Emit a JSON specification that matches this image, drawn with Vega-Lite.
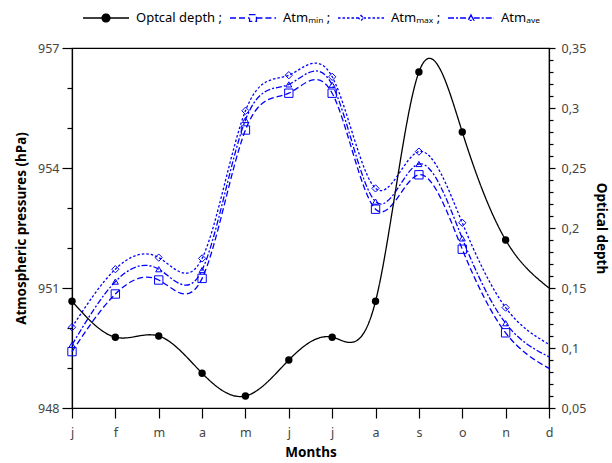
{
  "$schema": "https://vega.github.io/schema/vega-lite/v6.json",
  "width": 477,
  "height": 360,
  "autosize": "none",
  "padding": {"left": 72, "top": 48, "right": 63, "bottom": 55},
  "config": {
    "font": "Noto Sans",
    "view": {"stroke": "black", "strokeWidth": 1.2},
    "axis": {"grid": false, "domainColor": "black", "tickColor": "black", "domainWidth": 1.2, "tickWidth": 1.2, "labelFontSize": 12.5, "labelColor": "#444444", "titleFontSize": 13.5, "titleFontWeight": "bold", "titleColor": "black", "labelFont": "Noto Sans", "titleFont": "Noto Sans"}
  },
  "data": {"values": [
    {"m": 1, "s": "Optcal depth", "v": 0.139}, {"m": 2, "s": "Optcal depth", "v": 0.109}, {"m": 3, "s": "Optcal depth", "v": 0.110}, {"m": 4, "s": "Optcal depth", "v": 0.079}, {"m": 5, "s": "Optcal depth", "v": 0.060}, {"m": 6, "s": "Optcal depth", "v": 0.090}, {"m": 7, "s": "Optcal depth", "v": 0.109}, {"m": 8, "s": "Optcal depth", "v": 0.139}, {"m": 9, "s": "Optcal depth", "v": 0.330}, {"m": 10, "s": "Optcal depth", "v": 0.280}, {"m": 11, "s": "Optcal depth", "v": 0.190}, {"m": 12, "s": "Optcal depth", "v": 0.150},
    {"m": 1, "s": "Atm_min", "v": 949.41}, {"m": 2, "s": "Atm_min", "v": 950.85}, {"m": 3, "s": "Atm_min", "v": 951.20}, {"m": 4, "s": "Atm_min", "v": 951.24}, {"m": 5, "s": "Atm_min", "v": 954.95}, {"m": 6, "s": "Atm_min", "v": 955.87}, {"m": 7, "s": "Atm_min", "v": 955.87}, {"m": 8, "s": "Atm_min", "v": 952.97}, {"m": 9, "s": "Atm_min", "v": 953.83}, {"m": 10, "s": "Atm_min", "v": 951.97}, {"m": 11, "s": "Atm_min", "v": 949.88}, {"m": 12, "s": "Atm_min", "v": 948.99},
    {"m": 1, "s": "Atm_max", "v": 950.02}, {"m": 2, "s": "Atm_max", "v": 951.47}, {"m": 3, "s": "Atm_max", "v": 951.76}, {"m": 4, "s": "Atm_max", "v": 951.74}, {"m": 5, "s": "Atm_max", "v": 955.43}, {"m": 6, "s": "Atm_max", "v": 956.32}, {"m": 7, "s": "Atm_max", "v": 956.28}, {"m": 8, "s": "Atm_max", "v": 953.49}, {"m": 9, "s": "Atm_max", "v": 954.41}, {"m": 10, "s": "Atm_max", "v": 952.63}, {"m": 11, "s": "Atm_max", "v": 950.51}, {"m": 12, "s": "Atm_max", "v": 949.59},
    {"m": 1, "s": "Atm_ave", "v": 949.58}, {"m": 2, "s": "Atm_ave", "v": 951.16}, {"m": 3, "s": "Atm_ave", "v": 951.47}, {"m": 4, "s": "Atm_ave", "v": 951.45}, {"m": 5, "s": "Atm_ave", "v": 955.20}, {"m": 6, "s": "Atm_ave", "v": 956.09}, {"m": 7, "s": "Atm_ave", "v": 956.08}, {"m": 8, "s": "Atm_ave", "v": 953.16}, {"m": 9, "s": "Atm_ave", "v": 954.10}, {"m": 10, "s": "Atm_ave", "v": 952.24}, {"m": 11, "s": "Atm_ave", "v": 950.12}, {"m": 12, "s": "Atm_ave", "v": 949.28}
  ]},
  "encoding": {
    "x": {"field": "m", "type": "quantitative", "scale": {"domain": [1, 12], "nice": false, "zero": false},
      "axis": {"values": [1,2,3,4,5,6,7,8,9,10,11,12], "labelExpr": "['j','f','m','a','m','j','j','a','s','o','n','d'][datum.value-1]", "tickSize": 10, "labelPadding": 8, "title": "Months", "titlePadding": 7, "labelFlush": false}}
  },
  "layer": [
    {
      "transform": [{"filter": "datum.s !== 'Optcal depth'"}],
      "encoding": {
        "y": {"field": "v", "type": "quantitative", "scale": {"domain": [948, 957], "nice": false, "zero": false},
          "axis": {"orient": "left", "values": [948,949,950,951,952,953,954,955,956,957], "labelExpr": "datum.value % 3 === 0 ? datum.label : ''", "tickSize": {"condition": {"test": "datum.value % 3 === 0", "value": 10}, "value": 5}, "labelPadding": 3, "title": "Atmospheric pressures (hPa)", "titlePadding": 9}}
      },
      "layer": [
        {
          "mark": {"type": "line", "interpolate": "natural", "strokeWidth": 1.3},
          "encoding": {
            "color": {"field": "s", "type": "nominal", "scale": {"domain": ["Optcal depth", "Atm_min", "Atm_max", "Atm_ave"], "range": ["#000000", "#0000ff", "#0000ff", "#0000ff"]},
              "legend": {"orient": "none", "legendX": 10, "legendY": -54, "direction": "horizontal", "title": null, "labelFontSize": 13, "labelColor": "black", "labelFont": "Noto Sans", "columnPadding": 4, "labelOffset": 6, "symbolSize": 2116, "symbolStrokeWidth": 1.3,
                "symbolType": {"expr": "datum.value === 'Optcal depth' ? 'M-1,0H1M-0.17,0A0.17,0.17,0,1,1,0.17,0A0.17,0.17,0,1,1,-0.17,0Z' : datum.value === 'Atm_min' ? 'M-1,0H-0.15M0.15,0H1M-0.15,-0.15H0.15V0.15H-0.15Z' : datum.value === 'Atm_max' ? 'M-1,0H-0.11M0.11,0H1M0,-0.11L0.11,0L0,0.11L-0.11,0Z' : 'M-1,0H-0.12M0.12,0H1M0,-0.13L0.12,0.1L-0.12,0.1Z'"},
                "symbolFillColor": {"expr": "datum.value === 'Optcal depth' ? 'black' : 'transparent'"},
                "labelExpr": "datum.label === 'Optcal depth' ? 'Optcal depth ;' : datum.label === 'Atm_min' ? 'Atmₘᵢₙ ;' : datum.label === 'Atm_max' ? 'Atmₘₐₓ ;' : ' Atmₐᵥₑ'"}},
            "strokeDash": {"field": "s", "type": "nominal", "scale": {"domain": ["Optcal depth", "Atm_min", "Atm_max", "Atm_ave"], "range": [[1, 0], [6, 3], [2.5, 2], [6, 2, 2, 2]]}}
          }
        },
        {
          "transform": [{"filter": "datum.m < 12"}],
          "mark": {"type": "point", "filled": false, "strokeWidth": 1, "opacity": 1, "color": "#0000ff"},
          "encoding": {
            "shape": {"field": "s", "type": "nominal", "scale": {"domain": ["Atm_min", "Atm_max", "Atm_ave"], "range": ["square", "diamond", "triangle-up"]}, "legend": null},
            "size": {"field": "s", "type": "nominal", "scale": {"domain": ["Atm_min", "Atm_max", "Atm_ave"], "range": [70, 36, 40]}, "legend": null}
          }
        }
      ]
    },
    {
      "transform": [{"filter": "datum.s === 'Optcal depth'"}],
      "encoding": {
        "y": {"field": "v", "type": "quantitative", "scale": {"domain": [0.05, 0.35], "nice": false, "zero": false},
          "axis": {"orient": "right", "values": [0.05,0.06,0.07,0.08,0.09,0.1,0.11,0.12,0.13,0.14,0.15,0.16,0.17,0.18,0.19,0.2,0.21,0.22,0.23,0.24,0.25,0.26,0.27,0.28,0.29,0.3,0.31,0.32,0.33,0.34,0.35],
            "labelExpr": "abs(round(datum.value*100) % 5) === 0 ? replace(format(datum.value, '.2~f'), '.', ',') : ''",
            "tickSize": {"condition": {"test": "abs(round(datum.value*100) % 5) === 0", "value": 6}, "value": 4}, "labelPadding": 6, "title": "Optical depth", "titlePadding": 8}}
      },
      "layer": [
        {
          "mark": {"type": "line", "interpolate": "natural", "strokeWidth": 1.3},
          "encoding": {
            "color": {"field": "s", "type": "nominal"},
            "strokeDash": {"field": "s", "type": "nominal"}
          }
        },
        {
          "transform": [{"filter": "datum.m < 12"}],
          "mark": {"type": "point", "shape": "circle", "filled": true, "size": 55, "opacity": 1, "color": "black"},
          "encoding": {}
        }
      ]
    }
  ],
  "resolve": {"scale": {"y": "independent"}}
}
